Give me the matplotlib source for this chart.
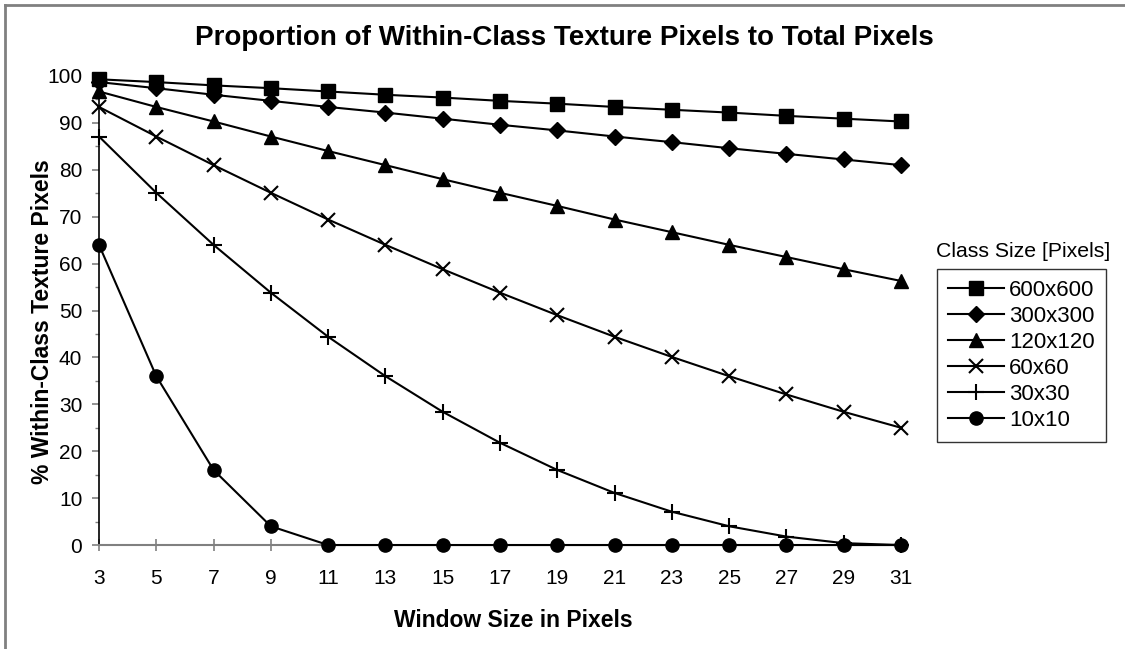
import matplotlib.pyplot as plt
from matplotlib.lines import Line2D
from matplotlib.ticker import MultipleLocator

plt.rcParams['font.family'] = ['Liberation Sans', 'DejaVu Sans']

# --- DATA ---
window_sizes = [3, 5, 7, 9, 11, 13, 15, 17, 19, 21, 23, 25, 27, 29, 31]
class_labels = ['600x600', '300x300', '120x120', '60x60', '30x30', '10x10']

pct_600 = [99.3, 98.7, 98.0, 97.4, 96.7, 96.0, 95.4, 94.7, 94.1, 93.4, 92.8, 92.2, 91.5, 90.9, 90.3]
pct_300 = [98.7, 97.4, 96.0, 94.7, 93.4, 92.2, 90.9, 89.6, 88.4, 87.1, 85.9, 84.6, 83.4, 82.2, 81.0]
pct_120 = [96.7, 93.4, 90.3, 87.1, 84.0, 81.0, 78.0, 75.1, 72.3, 69.4, 66.7, 64.0, 61.4, 58.8, 56.3]
pct_60 = [93.4, 87.1, 81.0, 75.1, 69.4, 64.0, 58.8, 53.8, 49.0, 44.4, 40.1, 36.0, 32.1, 28.4, 25.0]
pct_30 = [87.1, 75.1, 64.0, 53.8, 44.4, 36.0, 28.4, 21.8, 16.0, 11.1, 7.1, 4.0, 1.8, 0.4, 0.0]
pct_10 = [64.0, 36.0, 16.0, 4.0, 0.0, 0.0, 0.0, 0.0, 0.0, 0.0, 0.0, 0.0, 0.0, 0.0, 0.0]

series = [pct_600, pct_300, pct_120, pct_60, pct_30, pct_10]
markers = ['s', 'D', '^', 'x', '+', 'o']
msizes = [10, 8.5, 9.5, 10, 11, 9.5]

fig = plt.figure(figsize=(11.25, 6.49), dpi=100)
ax = fig.add_axes([0.088, 0.1602, 0.7129, 0.7227])

handles = []
for vals, lab, mk, ms in zip(series, class_labels, markers, msizes):
    h, = ax.plot(window_sizes, vals, color='black', lw=1.5, marker=mk,
                 markersize=ms, markeredgewidth=1.5 if mk in 'x+' else 1.0,
                 label=lab, clip_on=False, zorder=3)
    handles.append(h)

ax.set_xlim(3, 31)
ax.set_ylim(0, 100)
ax.set_xticks(window_sizes)
ax.yaxis.set_major_locator(MultipleLocator(10))
ax.yaxis.set_minor_locator(MultipleLocator(5))

for side in ['top', 'right']:
    ax.spines[side].set_visible(False)
ax.spines['left'].set_color('black')
ax.spines['bottom'].set_color('#808080')
ax.spines['left'].set_linewidth(1.2)
ax.spines['bottom'].set_linewidth(1.5)

ax.tick_params(axis='y', which='major', direction='out', length=5, width=1.2,
               color='#808080', labelsize=15, pad=7)
ax.tick_params(axis='y', which='minor', direction='out', length=3, width=1.0,
               color='#808080')
ax.tick_params(axis='x', which='major', direction='inout', length=8, width=1.2,
               color='#808080', labelsize=15, pad=13)

fig.text(0.502, 0.9307, 'Proportion of Within-Class Texture Pixels to Total Pixels',
         ha='center', va='baseline', fontsize=20, fontweight='bold')
fig.text(0.4564, 0.0339, 'Window Size in Pixels', ha='center', va='baseline',
         fontsize=16.5, fontweight='bold')
fig.text(0.038, 0.504, '% Within-Class Texture Pixels', ha='center', va='center',
         rotation=90, fontsize=16.5, fontweight='bold')
fig.text(0.909, 0.612, 'Class Size [Pixels]', ha='center', va='center', fontsize=15.3)

leg = fig.legend(handles=handles, loc='upper left', bbox_to_anchor=(0.833, 0.5855),
                 frameon=True, fancybox=False, fontsize=16, handlelength=2.5,
                 handletextpad=0.25, labelspacing=0.22, borderpad=0.5,
                 borderaxespad=0)
leg.get_frame().set_edgecolor('black')
leg.get_frame().set_linewidth(1.0)

# partial border of the chart area (left and top edges)
fig.add_artist(Line2D([0.0045, 0.0045], [0.0, 0.992], color='#808080', lw=2,
                      transform=fig.transFigure))
fig.add_artist(Line2D([0.0045, 1.0], [0.992, 0.992], color='#808080', lw=2,
                      transform=fig.transFigure))

fig.savefig('out.png', dpi=100)
